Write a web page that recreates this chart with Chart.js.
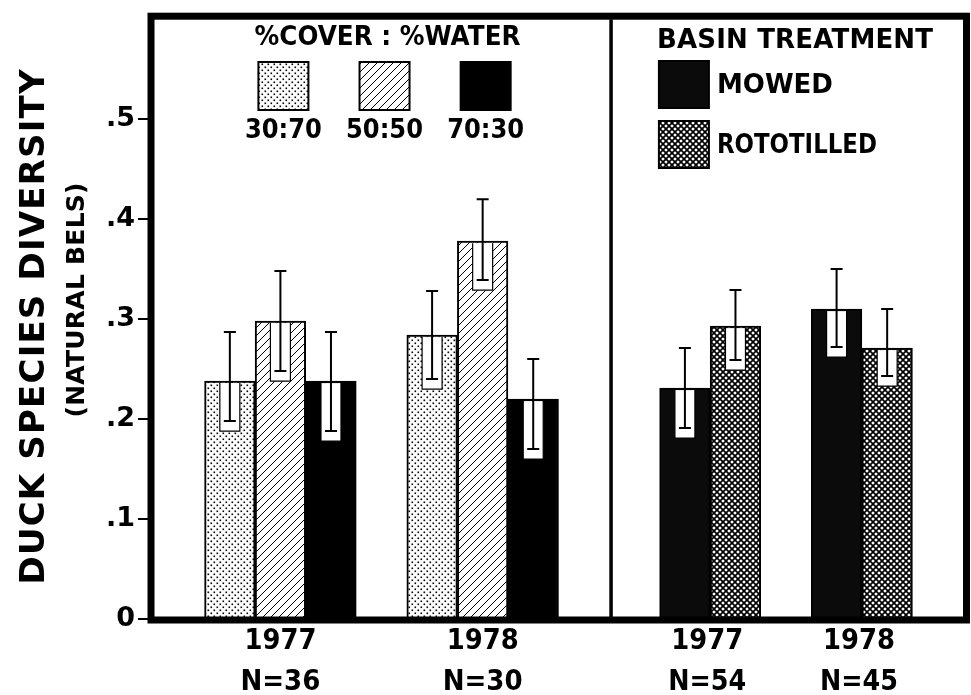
<!DOCTYPE html>
<html>
<head>
<meta charset="utf-8">
<script src="https://cdn.jsdelivr.net/npm/chart.js@4.4.1/dist/chart.umd.min.js"></script>
<style>
  html, body { margin: 0; background: #fff; }
  #wrap { width: 971px; height: 695px; position: relative; }
</style>
</head>
<body>
<div id="wrap"><canvas id="chart"></canvas></div>
<script>
// ---- data ----
const yTicks = [0, 0.1, 0.2, 0.3, 0.4, 0.5];
const coverYears = ['1977', '1978'];
const coverN = ['N=36', 'N=30'];
const basinYears = ['1977', '1978'];
const basinN = ['N=54', 'N=45'];
const coverSeries = ['30:70', '50:50', '70:30'];
const basinSeries = ['MOWED', 'ROTOTILLED'];

// mean, upper and lower error limit per year (1977, 1978)
const cover3070 = [0.238, 0.284], cover3070Hi = [0.287, 0.328], cover3070Lo = [0.198, 0.240];
const cover5050 = [0.298, 0.378], cover5050Hi = [0.348, 0.420], cover5050Lo = [0.248, 0.339];
const cover7030 = [0.238, 0.220], cover7030Hi = [0.287, 0.260], cover7030Lo = [0.188, 0.170];
const mowed = [0.231, 0.310], mowedHi = [0.271, 0.350], mowedLo = [0.191, 0.272];
const rototilled = [0.293, 0.271], rototilledHi = [0.329, 0.310], rototilledLo = [0.259, 0.243];

const FONT = '"DejaVu Sans", sans-serif';

// ---- fill patterns ----
function makePattern(size, draw) {
  const c = document.createElement('canvas');
  c.width = c.height = size;
  const g = c.getContext('2d');
  draw(g, size);
  return g.createPattern(c, 'repeat');
}
const dots = makePattern(6, (g) => {
  g.fillStyle = '#fff'; g.fillRect(0, 0, 6, 6);
  g.fillStyle = '#000';
  g.fillRect(0.5, 0.5, 1.6, 1.6);
  g.fillRect(3.5, 3.5, 1.6, 1.6);
});
const hatch = makePattern(8, (g) => {
  g.fillStyle = '#fff'; g.fillRect(0, 0, 8, 8);
  g.strokeStyle = '#000'; g.lineWidth = 1;
  g.beginPath();
  g.moveTo(-1, 9); g.lineTo(9, -1);
  g.moveTo(-1, 1); g.lineTo(1, -1);
  g.moveTo(7, 9); g.lineTo(9, 7);
  g.stroke();
});
const checker = makePattern(6, (g) => {
  g.fillStyle = '#000'; g.fillRect(0, 0, 6, 6);
  g.fillStyle = '#fff';
  const diamond = (x, y, r) => { g.beginPath(); g.moveTo(x, y - r); g.lineTo(x + r, y); g.lineTo(x, y + r); g.lineTo(x - r, y); g.closePath(); g.fill(); };
  [[3, 3], [0, 0], [6, 0], [0, 6], [6, 6]].forEach(([x, y]) => diamond(x, y, 1.8));
});
const fills = [dots, hatch, '#000', '#0b0b0b', checker];

// ---- slot layout: 16 bar-wide slots, left panel 9, right panel 7 ----
const N_SLOTS = 16;
const slotOf = (panel, g, k) => panel === 0 ? 1 + 4 * g + k : 10 + 3 * g + k;
function toSlots(panel, k, vals) {
  const a = new Array(N_SLOTS).fill(null);
  vals.forEach((v, g) => { a[slotOf(panel, g, k)] = v; });
  return a;
}
const seriesDefs = [
  [0, 0, cover3070, cover3070Hi, cover3070Lo],
  [0, 1, cover5050, cover5050Hi, cover5050Lo],
  [0, 2, cover7030, cover7030Hi, cover7030Lo],
  [1, 0, mowed, mowedHi, mowedLo],
  [1, 1, rototilled, rototilledHi, rototilledLo],
];
const datasets = seriesDefs.map(([panel, k, m, hi, lo], i) => ({
  label: panel === 0 ? coverSeries[k] : basinSeries[k],
  data: toSlots(panel, k, m),
  errHi: toSlots(panel, k, hi),
  errLo: toSlots(panel, k, lo),
  backgroundColor: fills[i],
  borderColor: '#000',
  borderWidth: 2,
  borderSkipped: 'bottom',
  grouped: false,
  categoryPercentage: 1,
  barPercentage: 1,
}));

// ---- text helper: squeeze or letter-space text to a width ----
function fitText(ctx, text, cx, cy, size, width) {
  ctx.save();
  ctx.font = `bold ${size}px ${FONT}`;
  ctx.fillStyle = '#000';
  ctx.textBaseline = 'alphabetic';
  const w = ctx.measureText(text).width;
  const base = size * 0.365;
  ctx.translate(cx, cy);
  if (w >= width) {
    ctx.scale(width / w, 1);
    ctx.textAlign = 'center';
    ctx.fillText(text, 0, base);
  } else {
    ctx.letterSpacing = ((width - w) / Math.max(text.length - 1, 1)) + 'px';
    ctx.textAlign = 'left';
    ctx.fillText(text, -width / 2, base);
    ctx.letterSpacing = '0px';
  }
  ctx.restore();
}

const errorBars = {
  id: 'errorBars',
  afterDatasetsDraw(chart) {
    const { ctx, scales: { y } } = chart;
    chart.data.datasets.forEach((ds, i) => {
      chart.getDatasetMeta(i).data.forEach((bar, j) => {
        if (ds.data[j] == null) return;
        const yHi = y.getPixelForValue(ds.errHi[j]);
        const yLo = y.getPixelForValue(ds.errLo[j]);
        const top = bar.y + 2, bot = yLo + 10;
        ctx.save();
        ctx.fillStyle = '#fff';
        ctx.fillRect(bar.x - 10, top, 20, bot - top);
        ctx.strokeStyle = '#000';
        ctx.lineWidth = 1.2;
        ctx.beginPath();
        ctx.moveTo(bar.x - 10, top); ctx.lineTo(bar.x - 10, bot);
        ctx.lineTo(bar.x + 10, bot); ctx.lineTo(bar.x + 10, top);
        ctx.stroke();
        ctx.lineWidth = 2;
        ctx.beginPath();
        ctx.moveTo(bar.x, yHi); ctx.lineTo(bar.x, yLo);
        ctx.moveTo(bar.x - 6, yHi); ctx.lineTo(bar.x + 6, yHi);
        ctx.moveTo(bar.x - 6, yLo); ctx.lineTo(bar.x + 6, yLo);
        ctx.stroke();
        ctx.restore();
      });
    });
  },
};

const frame = {
  id: 'frame',
  afterDatasetsDraw(chart) {
    const { ctx, chartArea: a, scales: { x } } = chart;
    const slotW = a.width / N_SLOTS;
    const divider = x.getPixelForValue(8) + slotW / 2;
    ctx.save();
    ctx.strokeStyle = '#000';
    ctx.lineWidth = 7;
    ctx.strokeRect(a.left - 3, a.top - 3, a.right + 3.5 - (a.left - 3), a.bottom + 1 - (a.top - 3));
    ctx.lineWidth = 3.5;
    ctx.beginPath(); ctx.moveTo(divider + 2, a.top); ctx.lineTo(divider + 2, a.bottom); ctx.stroke();
    ctx.restore();
  },
};

const labels = {
  id: 'labels',
  afterDraw(chart) {
    const { ctx, chartArea: a, scales: { x } } = chart;
    const px = (s) => x.getPixelForValue(s);
    const slotW = a.width / N_SLOTS;
    const divider = px(8) + slotW / 2;

    // y axis titles
    ctx.save();
    ctx.translate(32, 327); ctx.rotate(-Math.PI / 2);
    fitText(ctx, 'DUCK SPECIES DIVERSITY', 0, 0, 34, 515);
    ctx.restore();
    ctx.save();
    ctx.translate(75, 300); ctx.rotate(-Math.PI / 2);
    fitText(ctx, '(NATURAL BELS)', 0, 0, 25, 235);
    ctx.restore();

    // group labels below the axis
    coverYears.forEach((yr, g) => {
      const cx = px(slotOf(0, g, 1));
      fitText(ctx, yr, cx, 639, 28, 72);
      fitText(ctx, coverN[g], cx, 680, 28, 80);
    });
    basinYears.forEach((yr, g) => {
      const cx = (px(slotOf(1, g, 0)) + px(slotOf(1, g, 1))) / 2 - 3;
      fitText(ctx, yr, cx, 639, 28, 72);
      fitText(ctx, basinN[g], cx, 680, 28, 78);
    });

    // left legend
    fitText(ctx, '%COVER : %WATER', px(4) + 6, 35, 27, 266);
    coverSeries.forEach((name, k) => {
      const cx = px(2 + 2 * k) + 3;
      ctx.save();
      ctx.fillStyle = fills[k];
      ctx.fillRect(cx - 25, 62, 50, 48);
      ctx.strokeStyle = '#000'; ctx.lineWidth = 2;
      ctx.strokeRect(cx - 25, 62, 50, 48);
      ctx.restore();
      fitText(ctx, name, cx, 129, 26, 77);
    });

    // right legend
    fitText(ctx, 'BASIN TREATMENT', (divider + a.right) / 2 + 9, 39, 26, 276);
    const lw = [116, 160];
    basinSeries.forEach((name, k) => {
      const sx = px(10) - 2, sy = 61 + 60 * k;
      ctx.save();
      ctx.fillStyle = fills[3 + k];
      ctx.fillRect(sx - 24, sy, 50, 47);
      ctx.strokeStyle = '#000'; ctx.lineWidth = 2;
      ctx.strokeRect(sx - 24, sy, 50, 47);
      ctx.restore();
      fitText(ctx, name, sx + 34 + lw[k] / 2, sy + 22, 27, lw[k]);
    });
  },
};

new Chart(document.getElementById('chart'), {
  type: 'bar',
  data: { labels: new Array(N_SLOTS).fill(''), datasets },
  plugins: [errorBars, frame, labels],
  options: {
    responsive: true,
    maintainAspectRatio: false,
    animation: false,
    layout: { padding: { top: 14, right: 8, bottom: 76, left: 0 } },
    plugins: { legend: { display: false }, tooltip: { enabled: false } },
    scales: {
      x: { display: false },
      y: {
        min: 0,
        max: 0.6,
        afterFit: (s) => { s.width = 154; },
        afterBuildTicks: (s) => { s.ticks = yTicks.map(v => ({ value: v })); },
        grid: { drawOnChartArea: false, drawTicks: true, tickLength: 16, color: '#000', lineWidth: 2 },
        border: { display: false },
        ticks: {
          color: '#000',
          padding: 3,
          font: { family: FONT, size: 27, weight: 'bold' },
          callback: (v) => v === 0 ? '0' : '.' + Math.round(v * 10),
        },
      },
    },
  },
});
</script>
</body>
</html>
